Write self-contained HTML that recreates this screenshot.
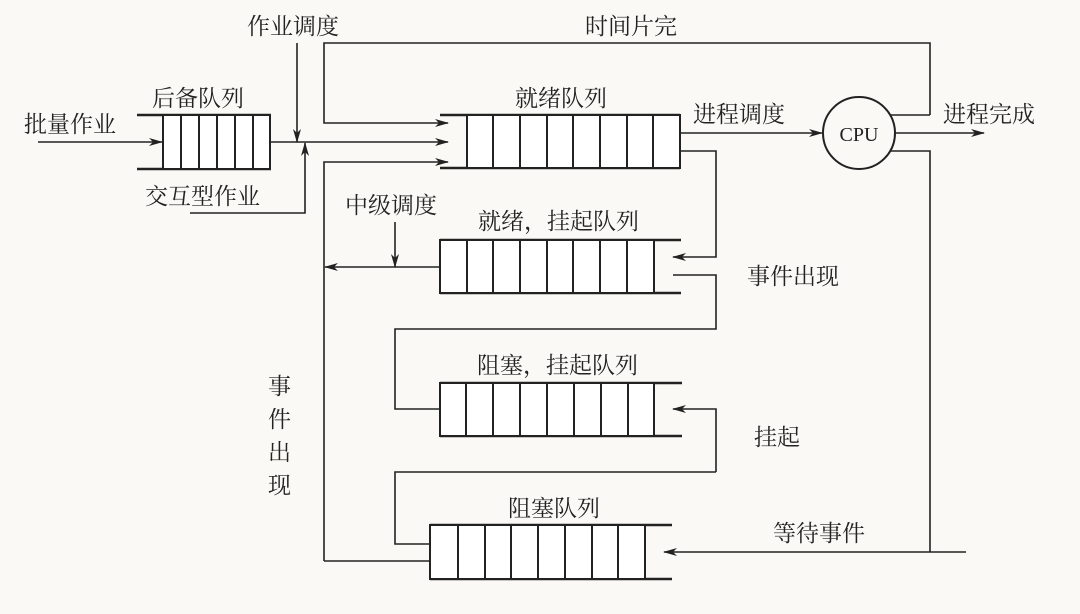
<!DOCTYPE html>
<html><head><meta charset="utf-8"><style>
html,body{margin:0;padding:0;background:#fbf9f5;}
svg text{font-family:"Liberation Serif","Noto Serif CJK SC",serif;font-size:23px;fill:#222;}
</style></head><body>
<svg width="1080" height="609" viewBox="0 0 1080 609" xmlns="http://www.w3.org/2000/svg">
<defs><marker id="a" markerWidth="14" markerHeight="8" refX="13" refY="4" orient="auto" markerUnits="userSpaceOnUse"><path d="M0,0 L14,4 L0,8 L4,4 Z" fill="#222"/></marker></defs>
<g stroke="#222" stroke-width="1.6" fill="none">
<!-- backup queue -->
<line x1="137" y1="115" x2="271" y2="115" stroke-width="2.5"/><line x1="137" y1="169" x2="271" y2="169" stroke-width="2.5"/>
<rect x="163" y="115" width="107" height="54" fill="#fff" stroke-width="2"/>
<path d="M181 115V169M199 115V169M217 115V169M235 115V169M253 115V169" stroke-width="2"/>
<line x1="38" y1="142" x2="162" y2="142" marker-end="url(#a)"/>
<line x1="270" y1="142" x2="448" y2="142" marker-end="url(#a)"/>
<line x1="297" y1="43" x2="297" y2="142" marker-end="url(#a)"/>
<path d="M190 213H305V143" marker-end="url(#a)"/>
<path d="M930 115V43H324V123H448" marker-end="url(#a)"/>
<path d="M324 561V162H448" marker-end="url(#a)"/>
<line x1="891" y1="115" x2="930" y2="115"/>
<!-- ready queue -->
<line x1="440" y1="115" x2="680" y2="115" stroke-width="2.5"/><line x1="440" y1="168" x2="680" y2="168" stroke-width="2.5"/>
<rect x="467" y="115" width="213" height="53" fill="#fff" stroke-width="2"/>
<path d="M493 115V168M520 115V168M547 115V168M573 115V168M600 115V168M627 115V168M653 115V168" stroke-width="2"/>
<line x1="680" y1="133" x2="822" y2="133" marker-end="url(#a)"/>
<circle cx="859" cy="133" r="36" stroke-width="2"/>
<line x1="895" y1="133" x2="984" y2="133" marker-end="url(#a)"/>
<path d="M891 151H930V552"/>
<line x1="966" y1="552" x2="664" y2="552" marker-end="url(#a)"/>
<path d="M680 151H716V257H673" marker-end="url(#a)"/>
<!-- ready-suspend queue -->
<line x1="440" y1="240" x2="681" y2="240" stroke-width="2.5"/><line x1="440" y1="293" x2="681" y2="293" stroke-width="2.5"/>
<rect x="440" y="240" width="214" height="53" fill="#fff" stroke-width="2"/>
<path d="M467 240V293M493 240V293M520 240V293M547 240V293M573 240V293M600 240V293M627 240V293" stroke-width="2"/>
<line x1="440" y1="267" x2="325" y2="267" marker-end="url(#a)"/>
<line x1="395" y1="222" x2="395" y2="267" marker-end="url(#a)"/>
<path d="M673 275H716V329H395V409H440"/>
<!-- blocked-suspend queue -->
<line x1="440" y1="383" x2="682" y2="383" stroke-width="2.5"/><line x1="440" y1="436" x2="682" y2="436" stroke-width="2.5"/>
<rect x="440" y="383" width="214" height="53" fill="#fff" stroke-width="2"/>
<path d="M466 383V436M493 383V436M520 383V436M547 383V436M574 383V436M601 383V436M628 383V436" stroke-width="2"/>
<path d="M716 472V409H673" marker-end="url(#a)"/>
<path d="M716 472H395V544H430"/>
<!-- blocked queue -->
<line x1="430" y1="525" x2="672" y2="525" stroke-width="2.5"/><line x1="430" y1="579" x2="672" y2="579" stroke-width="2.5"/>
<rect x="430" y="525" width="215" height="54" fill="#fff" stroke-width="2"/>
<path d="M458 525V579M485 525V579M511 525V579M538 525V579M565 525V579M592 525V579M618 525V579" stroke-width="2"/>
<line x1="324" y1="561" x2="430" y2="561"/>
</g>
<text x="247" y="34">作业调度</text>
<text x="585" y="34">时间片完</text>
<text x="152" y="106">后备队列</text>
<text x="24" y="132">批量作业</text>
<text x="145" y="204">交互型作业</text>
<text x="515" y="106">就绪队列</text>
<text x="693" y="122">进程调度</text>
<text x="943" y="122">进程完成</text>
<text x="859" y="141" text-anchor="middle" style="font-size:20px">CPU</text>
<text x="345" y="213">中级调度</text>
<text x="478" y="229">就绪，挂起队列</text>
<text x="747" y="284">事件出现</text>
<text x="477" y="373">阻塞，挂起队列</text>
<text x="754" y="445">挂起</text>
<text x="508" y="516">阻塞队列</text>
<text x="773" y="541">等待事件</text>
<text x="268" y="394">事</text>
<text x="268" y="427">件</text>
<text x="268" y="460">出</text>
<text x="268" y="493">现</text>
</svg>
</body></html>
